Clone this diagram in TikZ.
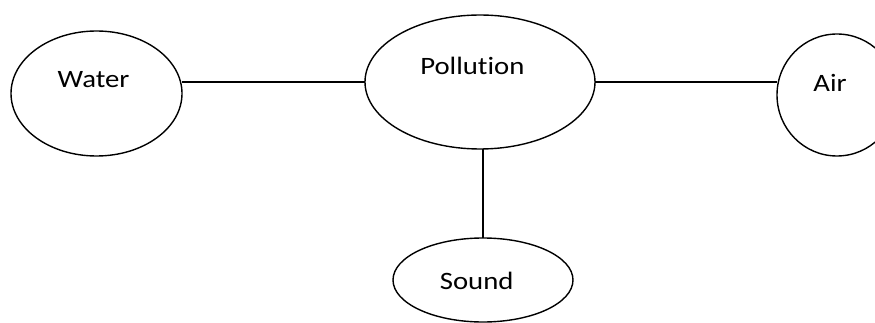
\documentclass[tikz,border=0pt]{standalone}
\usepackage{fontspec}
\setmainfont{Carlito}[Ligatures=NoCommon]
\usetikzlibrary{shapes.geometric}
\begin{document}
\begin{tikzpicture}[x=1pt,y=-1pt]
	\tikzstyle{every node} = [inner sep=0pt, outer sep=0pt]
	\tikzstyle{bubble} = [draw, ellipse, line width=1.4pt]
	\tikzstyle{word} = [anchor=base, xscale=1.15, font=\fontsize{25}{30}\selectfont]
	\tikzstyle{link} = [line width=1.4pt]
	\useasboundingbox (0,0) rectangle (875,323);
	\node[bubble, minimum width=171pt, minimum height=125pt] (water) at (96.5,93.5) {}; \node[bubble, minimum width=230pt, minimum height=134pt] (pollution) at (480,82) {}; \node[bubble, minimum width=120pt, minimum height=122pt] (air) at (837,95) {}; \node[bubble, minimum width=180pt, minimum height=84pt] (sound) at (483,280) {};
	\node[word] (water text) at (93.6,87.3) {Water}; \node[word] (pollution text) at (472.4,75) {Pollution}; \node[word] (air text) at (830,92) {Air}; \node[word] (sound text) at (476.7,289.3) {Sound};
	
	\draw[link] (water.east |- pollution.west) -- (pollution.west); \draw[link] (pollution.east) -- (air.west |- pollution.east); \draw[link] (sound.north |- pollution.south) -- (sound.north);
\end{tikzpicture}
\end{document}
